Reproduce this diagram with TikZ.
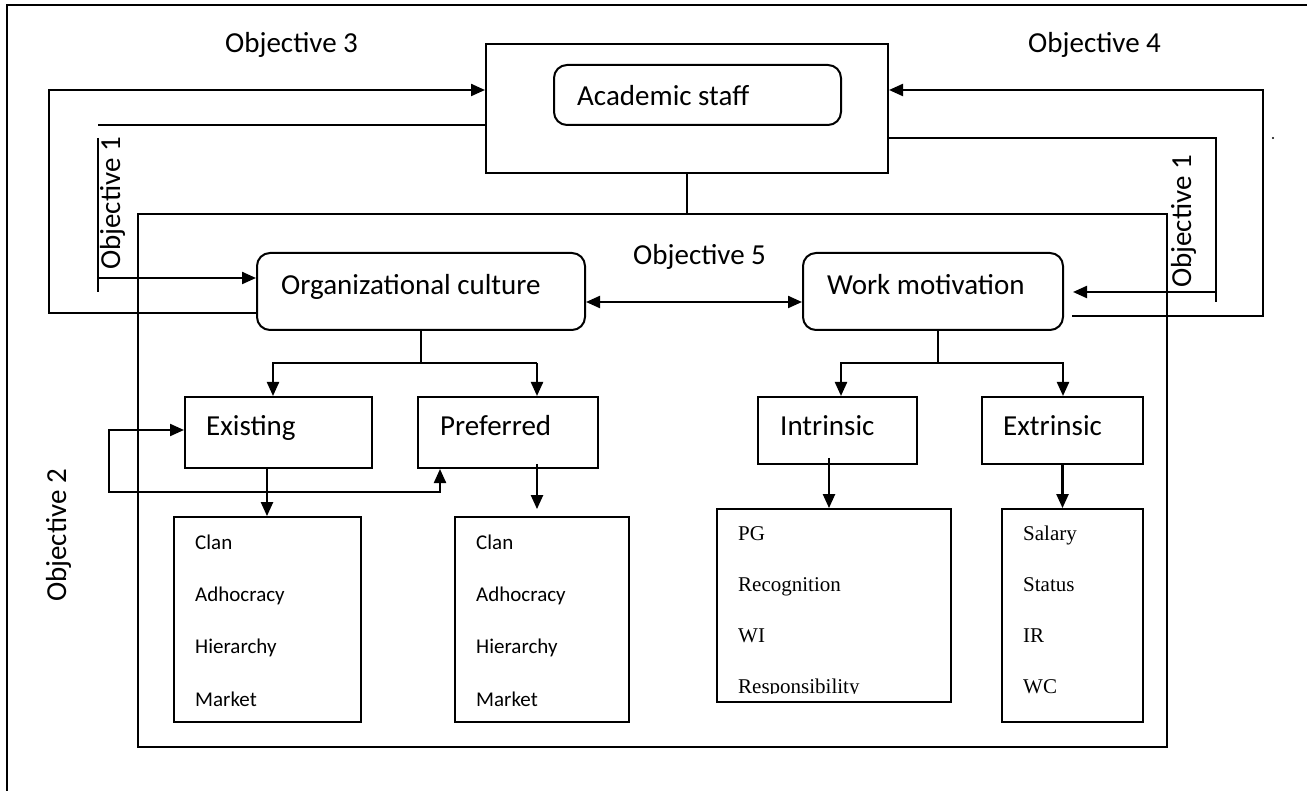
\documentclass[tikz,border=0pt]{standalone}
\usepackage{fontspec}
\setmainfont{Carlito}
\newfontfamily\timesfont{Liberation Serif}
\usetikzlibrary{arrows.meta}
\begin{document}
\begin{tikzpicture}[x=1pt,y=-1pt,
  frameln/.style={line width=1.8pt},
  sqbox/.style={draw, line width=2pt, inner sep=0pt, rectangle},
  rbox/.style={sqbox, rounded corners=13pt},
  listbox/.style={draw, line width=1.8pt, inner sep=0pt, rectangle},
  conn/.style={line width=2.2pt},
  tip/.tip={Triangle[length=14pt,width=12pt]},
  arr/.style={conn, -tip},
  dblarr/.style={conn, tip-tip},
  big/.style={font=\fontsize{29}{34}\selectfont, inner sep=0pt, anchor=base west},
  small/.style={font=\fontsize{21}{25}\selectfont, inner sep=0pt, anchor=base west},
  serif/.style={font=\timesfont\fontsize{21}{25}\selectfont, inner sep=0pt, anchor=base west},
]
\useasboundingbox (0,0) rectangle (1307,791);
\fill[white] (0,0) rectangle (1307,791);

% page frame
\draw[frameln] (7,791) -- (7,5) -- (1307,5);

% boxes
\node[sqbox, minimum width=402pt, minimum height=129pt] (acad) at (687,108.5) {};
\node[rbox, minimum width=287pt, minimum height=60pt] (acadin) at (697.5,95) {};
\node[sqbox, line width=1.8pt, minimum width=1029pt, minimum height=533pt] (frame) at (652.5,480.5) {};
\node[rbox, minimum width=328pt, minimum height=77pt] (org) at (421,291.5) {};
\node[rbox, minimum width=260pt, minimum height=77pt] (work) at (933,291.5) {};
\node[sqbox, minimum width=187pt, minimum height=71pt] (exist) at (278.5,432.5) {};
\node[sqbox, minimum width=180pt, minimum height=71pt] (pref) at (508,432.5) {};
\node[sqbox, minimum width=159pt, minimum height=67pt] (intr) at (837.5,430.5) {};
\node[sqbox, minimum width=161pt, minimum height=67pt] (extr) at (1062.5,430.5) {};
\node[listbox, minimum width=187pt, minimum height=205pt] (list1) at (267.5,619.5) {};
\node[listbox, minimum width=174pt, minimum height=205pt] (list2) at (542,619.5) {};
\node[listbox, minimum width=234pt, minimum height=193pt] (list3) at (834,605.5) {};
\node[listbox, minimum width=141pt, minimum height=213pt] (list4) at (1072.5,615.5) {};

% box titles
\node[big] (acadtxt) at (577,106) {Academic staff};
\node[big] (orgtxt) at (281,295) {Organizational culture};
\node[big] (worktxt) at (827,295) {Work motivation};
\node[big] (existtxt) at (206,436) {Existing};
\node[big] (preftxt) at (440,436) {Preferred};
\node[big] (intrtxt) at (780,436) {Intrinsic};
\node[big] (extrtxt) at (1003,436) {Extrinsic};

% objective labels
\node[big] (obj3) at (225,53) {Objective 3};
\node[big] (obj4) at (1028,53) {Objective 4};
\node[big] (obj5) at (633,265) {Objective 5};
\node[big, rotate=90] (obj1l) at (120,270) {Objective 1};
\node[big, rotate=90] (obj1r) at (1191,288) {Objective 1};
\node[big, rotate=90] (obj2) at (66,602) {Objective 2};

% list contents
\foreach \txt [count=\i] in {Clan,Adhocracy,Hierarchy,Market} {
  \node[small] (exa\i) at (195,{549+52.4*(\i-1)}) {\txt};
  \node[small] (pra\i) at (476,{549+52.4*(\i-1)}) {\txt};
}
\foreach \txt [count=\i] in {Salary,Status,IR,WC} {
  \node[serif] (exb\i) at (1023,{540+51.3*(\i-1)}) {\txt};
}
\begin{scope}
  \clip (717,509) rectangle (951,693);
  \foreach \txt [count=\i] in {PG,Recognition,WI,Responsibility} {
    \node[serif] (inb\i) at (738,{540+51.3*(\i-1)}) {\txt};
  }
\end{scope}

% bend points of the connectors
\coordinate (o3a) at (49,313);
\coordinate (o3b) at (49,90);
\coordinate (o1a) at (98,125);
\coordinate (o1b) at (98,138);
\coordinate (o1c) at (98,292);
\coordinate (o1d) at (98,278);
\coordinate (o4s) at (1072,316);
\coordinate (o4a) at (1263,316);
\coordinate (o4b) at (1263,90);
\coordinate (o1e) at (1216,138);
\coordinate (o1f) at (1216,302);
\coordinate (o1g) at (1216,292);
\coordinate (o1h) at (1073,292);
\coordinate (ocL) at (273,363);
\coordinate (ocR) at (537,363);
\coordinate (wcL) at (841,363);
\coordinate (wcR) at (1063,363);
\coordinate (fb1) at (109,430);
\coordinate (fb2) at (109,492);
\coordinate (fb3) at (440,492);

% academic staff to the study frame
\draw[conn] (acad.south) -- (acad.south |- frame.north);

% objective 3 loop
\draw[arr] (org.west |- o3a) -- (o3a) -- (o3b) -- (acad.west |- o3b);

% objective 1, left
\draw[conn] (acad.west |- o1a) -- (o1a);
\draw[conn] (o1b) -- (o1c);
\draw[arr] (o1d) -- (org.west |- o1d);

% objective 4 loop
\draw[arr] (o4s) -- (o4a) -- (o4b) -- (acad.east |- o4b);

% objective 1, right
\draw[conn] (acad.east |- o1e) -- (o1e) -- (o1f);
\draw[arr] (o1g) -- (o1h);

% objective 5
\draw[dblarr] (org.east |- 0,302) -- (work.west |- 0,302);

% culture branches
\draw[conn] (org.south) -- (org.south |- ocL);
\draw[arr] (ocR) -- (ocL) -- (ocL |- exist.north);
\draw[arr] (ocR) -- (ocR |- pref.north);

% motivation branches
\draw[conn] ([xshift=5pt]work.south) -- ([xshift=5pt]work.south |- wcL);
\draw[arr] (wcR) -- (wcL) -- (wcL |- intr.north);
\draw[arr] (wcL) -- (wcR) -- (wcR |- extr.north);

% existing / preferred link
\draw[dblarr] ([yshift=2.5pt]exist.west) -- (fb1) -- (fb2) -- (fb3) -- (fb3 |- pref.south);

% down to the dimension lists
\draw[arr] ([xshift=-11.5pt]exist.south) -- ([xshift=-11.5pt]exist.south |- list1.north);
\draw[arr] ([xshift=29pt,yshift=5pt]pref.south) -- ([xshift=29pt,yshift=7pt]pref.south |- list2.north);
\draw[arr] ([xshift=-8.5pt,yshift=7pt]intr.south) -- ([xshift=-8.5pt]intr.south |- list3.north);
\draw[arr] (extr.south) -- (extr.south |- list4.north);

% stray mark
\fill (1273,138) circle (1.2pt);
\end{tikzpicture}
\end{document}
